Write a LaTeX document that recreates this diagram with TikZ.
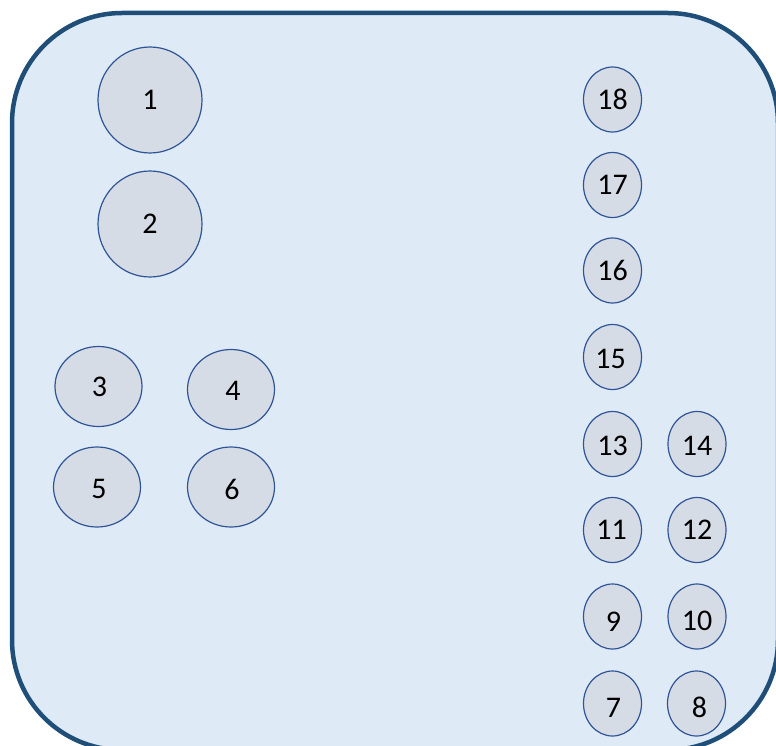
\documentclass[tikz,border=0pt]{standalone}
\usepackage{fontspec}
\setmainfont{Carlito}
\usetikzlibrary{shapes.geometric}
\definecolor{panelfill}{HTML}{DEEAF6}
\definecolor{panelline}{HTML}{1F4E79}
\definecolor{bubfill}{HTML}{D6DCE5}
\definecolor{bubline}{HTML}{2F5597}
\tikzset{
  panel/.style={draw=panelline, fill=panelfill, line width=4.5pt, rounded corners=110pt},
  bub/.style={ellipse, draw=bubline, fill=bubfill, line width=1.2pt, inner sep=0pt},
  big/.style={bub, minimum width=104pt, minimum height=106pt},
  mid/.style={bub, minimum width=87pt, minimum height=80pt},
  small/.style={bub, minimum width=58pt, minimum height=65pt},
  lbl/.style={font=\fontsize{30}{30}\selectfont, text=black}
}
\begin{document}
\begin{tikzpicture}[x=1pt, y=-1pt]
\useasboundingbox (0,0) rectangle (776,746);
\draw[panel] (12,13) rectangle (778,750);
% left group
\node[big] (n1) at (150,100) {};
\node[lbl] (t1) at (n1.center) {1};
\node[big] (n2) at (150,224) {};
\node[lbl] (t2) at (n2.center) {2};
\node[mid] (n3) at (98.5,386.5) {};
\node[lbl] (t3) at ([shift={(1,0)}]n3.center) {3};
\node[mid] (n4) at (231,389.5) {};
\node[lbl] (t4) at ([shift={(2,1)}]n4.center) {4};
\node[mid] (n5) at (97,487) {};
\node[lbl] (t5) at ([shift={(2,2)}]n5.center) {5};
\node[mid] (n6) at (231,487) {};
\node[lbl] (t6) at ([shift={(1,2)}]n6.center) {6};
% right column
\node[small] (n18) at (612.5,99.5) {};
\node[lbl] (t18) at (n18.center) {18};
\node[small] (n17) at (612.5,185) {};
\node[lbl] (t17) at (n17.center) {17};
\node[small] (n16) at (612.5,270.5) {};
\node[lbl] (t16) at (n16.center) {16};
\node[small] (n15) at (612.5,357) {};
\node[lbl] (t15) at ([shift={(-2,2)}]n15.center) {15};
\node[small] (n13) at (612.5,444) {};
\node[lbl] (t13) at ([shift={(0,2)}]n13.center) {13};
\node[small] (n14) at (697,444) {};
\node[lbl] (t14) at ([shift={(0,2)}]n14.center) {14};
\node[small] (n11) at (612.5,530) {};
\node[lbl] (t11) at ([shift={(-1,0)}]n11.center) {11};
\node[small] (n12) at (697,530) {};
\node[lbl] (t12) at (n12.center) {12};
\node[small] (n9) at (612.5,616.5) {};
\node[lbl] (t9) at ([shift={(1,5)}]n9.center) {9};
\node[small] (n10) at (697,616.5) {};
\node[lbl] (t10) at ([shift={(0,4)}]n10.center) {10};
\node[small] (n7) at (612.5,703.5) {};
\node[lbl] (t7) at ([shift={(1,4)}]n7.center) {7};
\node[small] (n8) at (696.5,703.5) {};
\node[lbl] (t8) at ([shift={(3,4)}]n8.center) {8};
\end{tikzpicture}
\end{document}
